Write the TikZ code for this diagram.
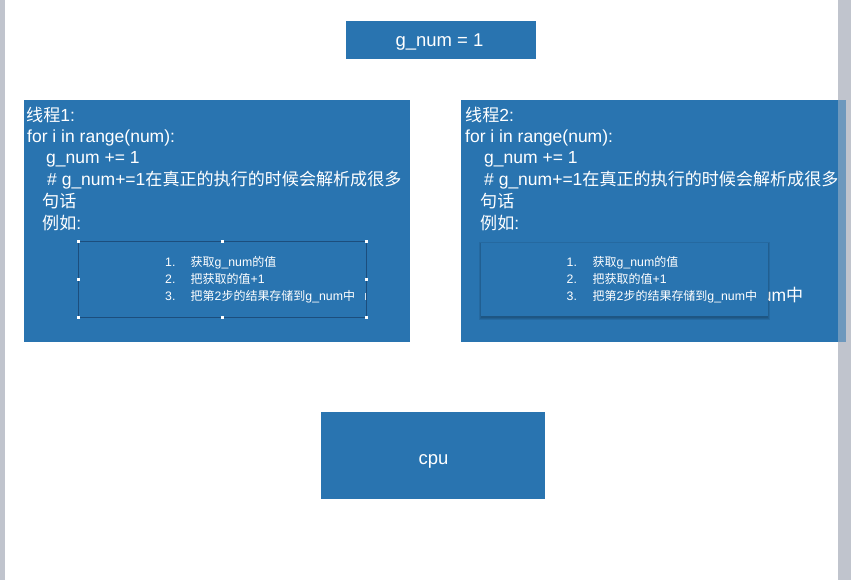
\documentclass[tikz,border=0pt]{standalone}
\usepackage{fontspec}
\setmainfont{Liberation Sans}
\newfontfamily\cjkf{Noto Sans CJK SC}[Scale=0.975]
\newcommand\zh[1]{{\cjkf #1}}
\definecolor{boxblue}{RGB}{41,116,176}
\definecolor{pagegrey}{RGB}{192,196,205}
\definecolor{edgeblue}{RGB}{28,78,125}
\tikzset{
  box/.style={fill=boxblue, draw=none, inner sep=0pt, text=white},
  big/.style={font=\fontsize{17.5}{20}\selectfont, text=white, anchor=base west, inner sep=0pt},
  small/.style={font=\fontsize{12.3}{13}\selectfont, text=white, anchor=base west, inner sep=0pt},
  handle/.style={fill=white, draw=none, minimum size=3pt, inner sep=0pt},
  title/.style={text=white, font=\fontsize{18.5}{20}\selectfont, anchor=base, inner sep=0pt}
}
\begin{document}
\begin{tikzpicture}[x=1pt,y=-1pt]
\useasboundingbox (0,0) rectangle (851,580);
\fill[pagegrey] (0,0) rectangle (851,580);
\fill[white] (5,0) rectangle (838,580);
% top
\node[box, minimum width=190pt, minimum height=38pt] (gnum) at (441,40) {};
\node[title] (gnumt) at (439.5,47) {g\_num = 1};
% thread 1
\node[box, anchor=north west, minimum width=386pt, minimum height=242pt] (t1) at (24,100) {};
\node[big] (a1) at (26,121.5) {\zh{线程}1:};
\node[big] (a2) at (27,142.8) {for i in range(num):};
\node[big] (a3) at (46,164) {g\_num += 1};
\node[big] (a4) at (47,185.5) {\# g\_num+=1\zh{在真正的执行的时候会解析成很多}};
\node[big] (a5) at (42,207.5) {\zh{句话}};
\node[big] (a6) at (42,229.5) {\zh{例如}:};
\node[draw=edgeblue, line width=0.6pt, anchor=north west, minimum width=288pt, minimum height=76pt, inner sep=0pt] (in1) at (78,241) {};
\node[small] (n11) at (165,266.5) {1.};
\node[small] (l11) at (190.5,266.5) {\zh{获取}g\_num\zh{的值}};
\node[small] (n12) at (165,283.5) {2.};
\node[small] (l12) at (190.5,283.5) {\zh{把获取的值}+1};
\node[small] (n13) at (165,300.5) {3.};
\node[small] (l13) at (190.5,300.5) {\zh{把第}2\zh{步的结果存储到}g\_num\zh{中}};
\fill[white, opacity=0.8] (364.5,293) rectangle (365.5,300);
\foreach \p in {north west, north, north east, west, east, south west, south, south east}
  \node[handle] at (in1.\p) {};
% thread 2
\node[box, anchor=north west, minimum width=377pt, minimum height=242pt] (t2) at (461,100) {};
\fill[boxblue, opacity=0.55] (838,100) rectangle (846,342);
\node[big] (b1) at (465,121.5) {\zh{线程}2:};
\node[big] (b2) at (465,142.8) {for i in range(num):};
\node[big] (b3) at (484,164) {g\_num += 1};
\node[big] (b4) at (484,185.5) {\# g\_num+=1\zh{在真正的执行的时候会解析成很多}};
\node[big] (b5) at (480,207.5) {\zh{句话}};
\node[big] (b6) at (480,229.5) {\zh{例如}:};
\node[big, anchor=base east] (b7) at (803.5,301) {g\_num\zh{中}};
\foreach \d in {0.6,1.3,2.2}
  \fill[black, opacity=0.09] (481-\d+0.4,243-\d+1.6) rectangle (768+\d-0.4,316+\d+1.6);
\node[box, anchor=north west, minimum width=287pt, minimum height=73pt] (in2) at (481,243) {};
\node[small] (n21) at (566.5,266.5) {1.};
\node[small] (l21) at (592.5,266.5) {\zh{获取}g\_num\zh{的值}};
\node[small] (n22) at (566.5,283.5) {2.};
\node[small] (l22) at (592.5,283.5) {\zh{把获取的值}+1};
\node[small] (n23) at (566.5,300.5) {3.};
\node[small] (l23) at (592.5,300.5) {\zh{把第}2\zh{步的结果存储到}g\_num\zh{中}};
% cpu
\node[box, minimum width=224pt, minimum height=87pt] (cpu) at (433,455.5) {};
\node[title] (cput) at (433.5,464) {cpu};
\end{tikzpicture}
\end{document}
